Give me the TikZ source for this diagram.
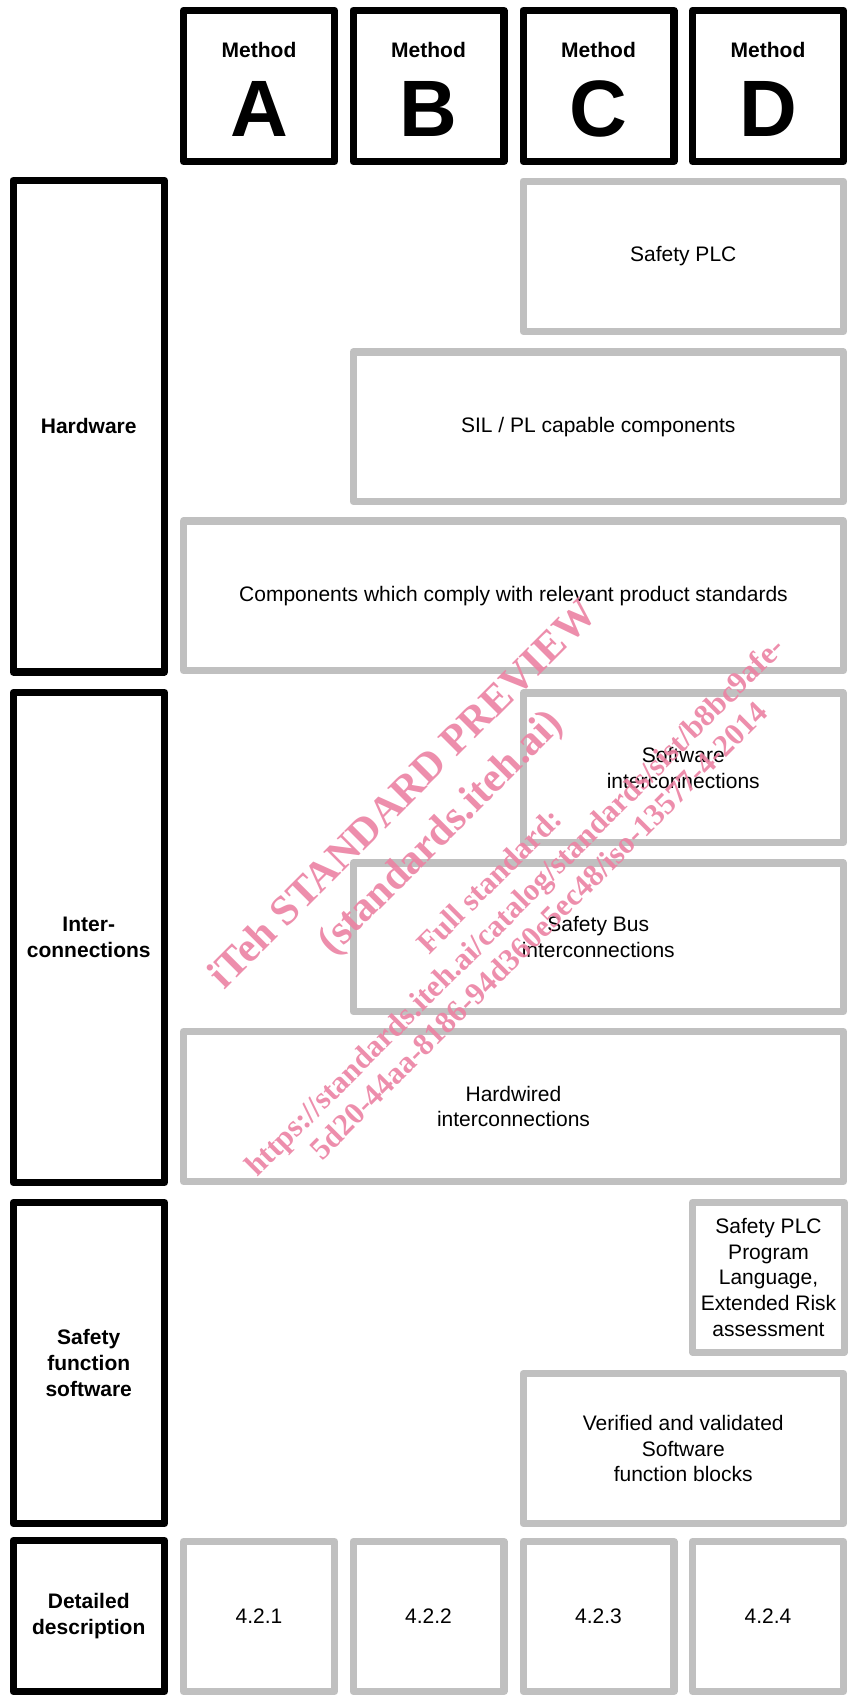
\documentclass[tikz,border=0pt]{standalone}
\usepackage{fontspec}
\setmainfont{Liberation Sans}
\newfontfamily\wmfont{Liberation Serif}
\definecolor{boxgray}{RGB}{192,192,192}
\definecolor{wmpink}{RGB}{236,130,163}
\def\lw{7.2}
% #1 name, #2 style, #3 x1, #4 y1, #5 x2, #6 y2 (outer edges), #7 text
\newcommand\bx[7]{%
  \node[#2, minimum width={#5-#3-\lw}, minimum height={#6-#4-\lw}] (#1)
    at ({(#3+#5)/2},{(#4+#6)/2}) {#7};}
\begin{document}
\begin{tikzpicture}[x=1pt,y=-1pt,
  blk/.style={draw=black, line width=\lw pt, line join=round, inner sep=0pt, outer sep=0pt,
    align=center, font=\bfseries\fontsize{21}{25.7}\selectfont},
  gry/.style={draw=boxgray, line width=\lw pt, line join=round, inner sep=0pt, outer sep=0pt,
    align=center, font=\fontsize{21}{25.7}\selectfont},
  methtxt/.style={anchor=base, inner sep=0pt, font=\bfseries\fontsize{21}{25}\selectfont},
  lettxt/.style={anchor=base, inner sep=0pt, font=\bfseries\fontsize{80}{80}\selectfont},
  wm/.style={anchor=base, rotate=45, inner sep=0pt, text=wmpink, text opacity=0.9},
  wmbig/.style={wm, font=\wmfont\bfseries\fontsize{42}{50}\selectfont},
  wmsmall/.style={wm, font=\wmfont\bfseries\fontsize{31}{35}\selectfont}]
\useasboundingbox (0,0) rectangle (848,1695);
\fill[white] (0,0) rectangle (848,1695);

% header
\bx{hA}{blk}{180}{6.7}{338}{165}{}
\bx{hB}{blk}{349.5}{6.7}{507.5}{165}{}
\bx{hC}{blk}{519.5}{6.7}{677.5}{165}{}
\bx{hD}{blk}{689}{6.7}{847}{165}{}
\node[methtxt] (mA) at (259,57) {Method};
\node[methtxt] (mB) at (428.5,57) {Method};
\node[methtxt] (mC) at (598.5,57) {Method};
\node[methtxt] (mD) at (768,57) {Method};
\node[lettxt] (lA) at (259,136) {A};
\node[lettxt] (lB) at (428.5,136) {B};
\node[lettxt] (lC) at (598.5,136) {C};
\node[lettxt] (lD) at (768,136) {D};

% hardware
\bx{rHW}{blk}{9.5}{176.7}{168}{675.5}{Hardware}
\bx{plc}{gry}{519.5}{177.5}{847}{335}{Safety PLC}
\bx{sil}{gry}{349.5}{348.3}{847}{505}{SIL / PL capable components}
\bx{comp}{gry}{180}{517.3}{847}{674}{Components which comply with relevant product standards}

% interconnections
\bx{rIC}{blk}{9.5}{689}{168}{1186}{Inter-\\connections}
\bx{swi}{gry}{519.5}{689.3}{847}{846}{Software\\interconnections}
\bx{bus}{gry}{349.5}{859.3}{847}{1015}{Safety Bus\\interconnections}
\bx{hwi}{gry}{180}{1028}{847}{1185}{Hardwired\\interconnections}

% safety function software
\bx{rSF}{blk}{9.5}{1199}{168}{1527}{Safety\\function\\software}
\bx{plcp}{gry}{689}{1199}{848}{1355.7}{Safety PLC\\Program\\Language,\\Extended Risk\\assessment}
\bx{ver}{gry}{519.5}{1370}{847}{1527}{Verified and validated\\Software\\function blocks}

% detailed description
\bx{rDD}{blk}{9.5}{1537}{168}{1695}{Detailed\\description}
\bx{dA}{gry}{180}{1538}{338}{1695}{4.2.1}
\bx{dB}{gry}{349.5}{1538}{507.5}{1695}{4.2.2}
\bx{dC}{gry}{519.5}{1538}{677.5}{1695}{4.2.3}
\bx{dD}{gry}{689}{1538}{847}{1695}{4.2.4}

% watermark
\node[wmbig] (w1) at (411.5,803.3) {iTeh STANDARD PREVIEW};
\node[wmbig] (w2) at (449,840.8) {(standards.iteh.ai)};
\node[wmsmall] (w3) at (496.4,888.1) {Full standard:};
\node[wmsmall] (w4) at (521.8,913.6) {https://standards.iteh.ai/catalog/standards/sist/b8bc9afe-};
\node[wmsmall] (w5) at (545.9,937.6) {5d20-44aa-8186-94d360e5ec48/iso-13577-4-2014};
\end{tikzpicture}
\end{document}
